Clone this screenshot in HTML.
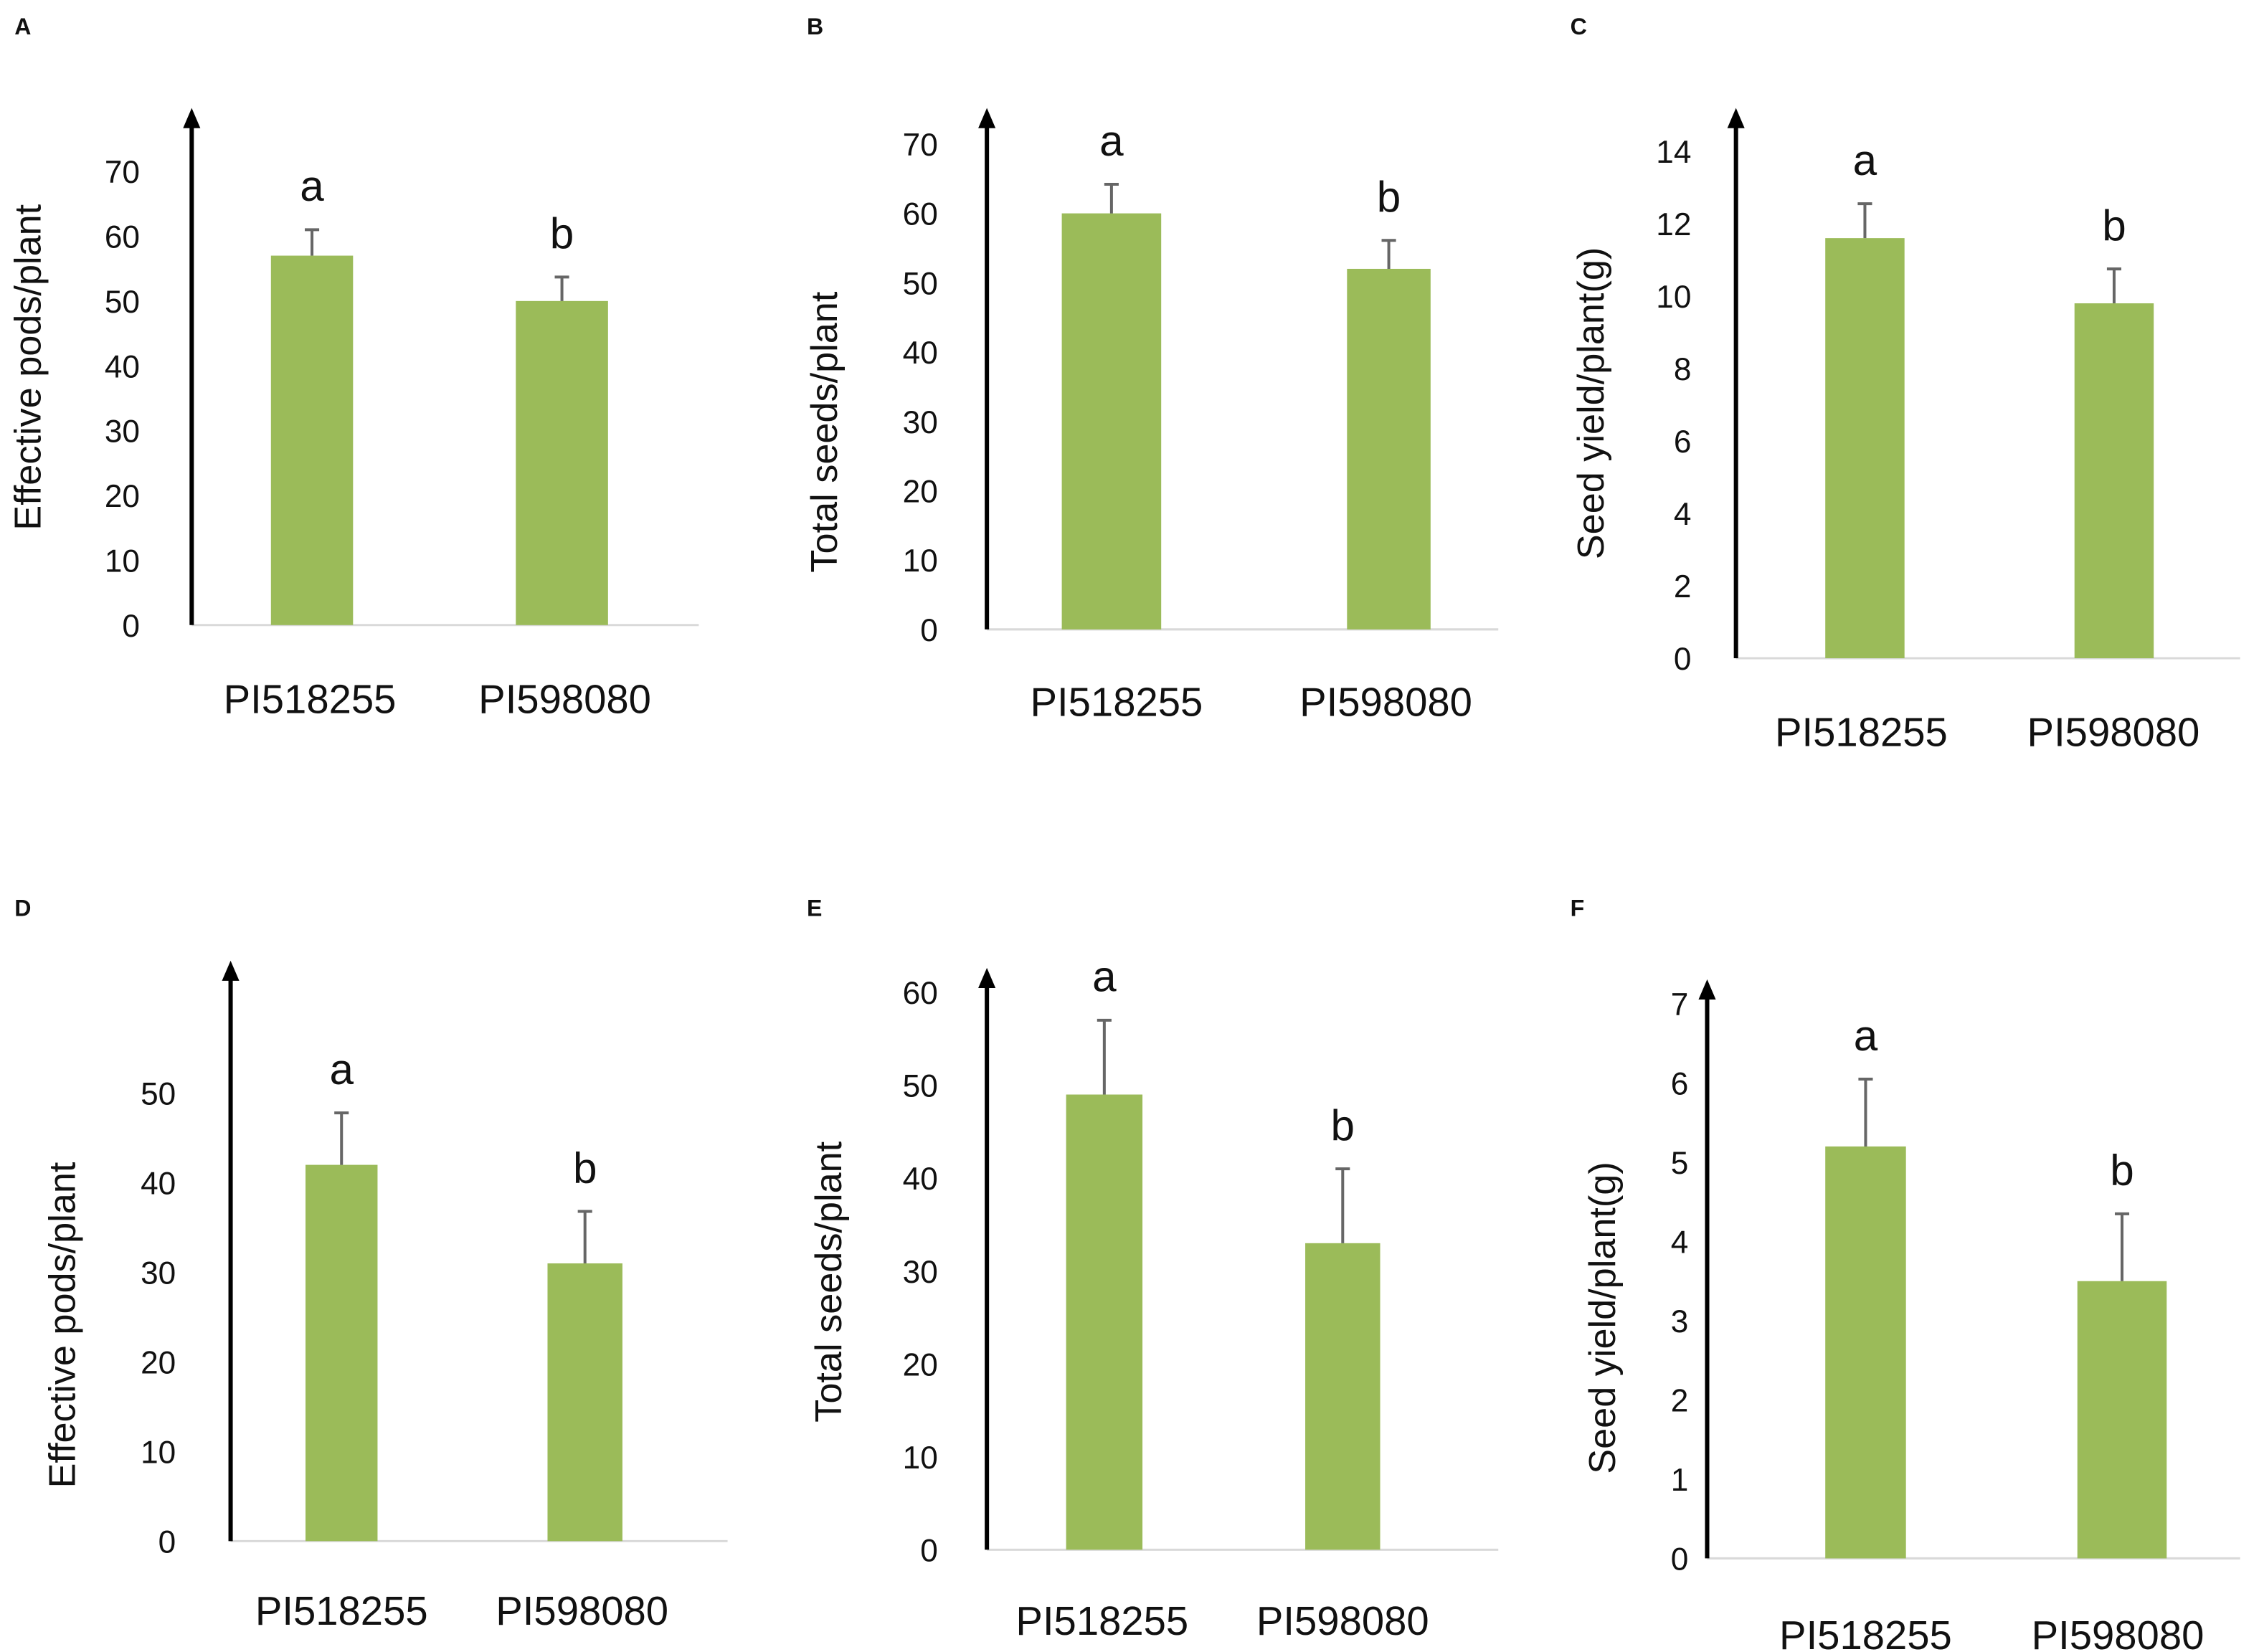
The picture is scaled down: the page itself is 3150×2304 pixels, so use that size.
<!DOCTYPE html>
<html><head><meta charset="utf-8"><style>
html,body{margin:0;padding:0;background:#fff}
svg{display:block}
text{font-family:"Liberation Sans","DejaVu Sans",sans-serif;fill:#111}
</style></head><body>
<svg id="fig" width="3150" height="2304" viewBox="0 0 1568 1147" xmlns="http://www.w3.org/2000/svg"></svg>
<script>
const categories = ["PI518255", "PI598080"];
const panelLetters = ["A","B","C","D","E","F"];
const yTitles = ["Effective pods/plant","Total seeds/plant","Seed yield/plant(g)","Effective pods/plant","Total seeds/plant","Seed yield/plant(g)"];
const meansA = [57, 50];   const errA = [4, 3.7];
const meansB = [60, 52];   const errB = [4.2, 4.1];
const meansC = [11.6, 9.8]; const errC = [0.95, 0.95];
const meansD = [42, 31];   const errD = [5.8, 5.8];
const meansE = [49, 33];   const errE = [8, 8];
const meansF = [5.2, 3.5]; const errF = [0.85, 0.85];
const sigLetters = ["a", "b"];
const ticksA = [0,10,20,30,40,50,60,70];
const ticksB = [0,10,20,30,40,50,60,70];
const ticksC = [0,2,4,6,8,10,12,14];
const ticksD = [0,10,20,30,40,50];
const ticksE = [0,10,20,30,40,50,60];
const ticksF = [0,1,2,3,4,5,6,7];

const NS="http://www.w3.org/2000/svg";
const svg=document.getElementById('fig');
function mk(tag,attrs,parent,txt){const e=document.createElementNS(NS,tag);for(const k in attrs)e.setAttribute(k,attrs[k]);if(txt!==undefined)e.textContent=txt;(parent||svg).appendChild(e);return e;}

// layout (not data)
const layouts=[
 {ax:133,base:434,top:119,tmax:70,arrowTop:75,xEnd:485,bars:[[188,245],[358,422]],tickX:97,titleX:28,titleY:255,catY:495,catX:[215,392],lx:10,ly:24},
 {ax:685,base:437,top:100,tmax:70,arrowTop:75,xEnd:1040,bars:[[737,806],[935,993]],tickX:651,titleX:581,titleY:300,catY:497,catX:[775,962],lx:560,ly:24},
 {ax:1205,base:457,top:105,tmax:14,arrowTop:75,xEnd:1555,bars:[[1267,1322],[1440,1495]],tickX:1174,titleX:1113,titleY:280,catY:518,catX:[1292,1467],lx:1090,ly:24},
 {ax:160,base:1070,top:759,tmax:50,arrowTop:667,xEnd:505,bars:[[212,262],[380,432]],tickX:122,titleX:52,titleY:920,catY:1128,catX:[237,404],lx:10,ly:636},
 {ax:685,base:1076,top:689,tmax:60,arrowTop:672,xEnd:1040,bars:[[740,793],[906,958]],tickX:651,titleX:584,titleY:890,catY:1135,catX:[765,932],lx:560,ly:636},
 {ax:1185,base:1082,top:697,tmax:7,arrowTop:680,xEnd:1555,bars:[[1267,1323],[1442,1504]],tickX:1172,titleX:1121,titleY:915,catY:1145,catX:[1295,1470],lx:1090,ly:636}
];
const means=[meansA,meansB,meansC,meansD,meansE,meansF];
const errs=[errA,errB,errC,errD,errE,errF];
const ticks=[ticksA,ticksB,ticksC,ticksD,ticksE,ticksF];

layouts.forEach((L,p)=>{
  const g=mk('g',{});
  
  
  const y=v=>L.base-(v/L.tmax)*(L.base-L.top);
  const pl=mk('text',{x:L.lx,y:L.ly,'font-size':16,'font-weight':'bold'},g,panelLetters[p]);
  
  
  const bl=mk('line',{x1:L.ax,y1:L.base,x2:L.xEnd,y2:L.base,stroke:'#d9d9d9','stroke-width':1.5},g);
  
  
  ticks[p].forEach(t=>{
    const tl=mk('text',{x:L.tickX,y:y(t)+8,'font-size':22,'text-anchor':'end',fill:'#222'},g,String(t));
    
    
  });
  categories.forEach((c,i)=>{
    const [x0,x1]=L.bars[i];
    const cx=(x0+x1)/2;
    const b=mk('rect',{x:x0,y:y(means[p][i]),width:x1-x0,height:L.base-y(means[p][i]),fill:'#9bbb59'},g);
    
    
    const et=y(means[p][i]+errs[p][i]);
    const e=mk('path',{d:`M${cx} ${y(means[p][i])}V${et}M${cx-5} ${et}H${cx+5}`,stroke:'#666','stroke-width':2,fill:'none'},g);
    
    
    const s=mk('text',{x:cx,y:et-20,'font-size':30,'text-anchor':'middle'},g,sigLetters[i]);
    
    
    const cl=mk('text',{x:L.catX[i],y:L.catY,'font-size':28,'text-anchor':'middle'},g,c);
    
    
  });
  const ax=mk('line',{x1:L.ax,y1:L.base,x2:L.ax,y2:L.arrowTop+12,stroke:'#000','stroke-width':3},g);
  
  
  const ah=mk('path',{d:`M${L.ax-6} ${L.arrowTop+14}L${L.ax} ${L.arrowTop}L${L.ax+6} ${L.arrowTop+14}Z`,fill:'#000'},g);
  
  
  const tt=mk('text',{x:L.titleX,y:L.titleY,'font-size':26,'text-anchor':'middle',transform:`rotate(-90 ${L.titleX} ${L.titleY})`},g,yTitles[p]);
  
  
});
</script>
</body></html>
